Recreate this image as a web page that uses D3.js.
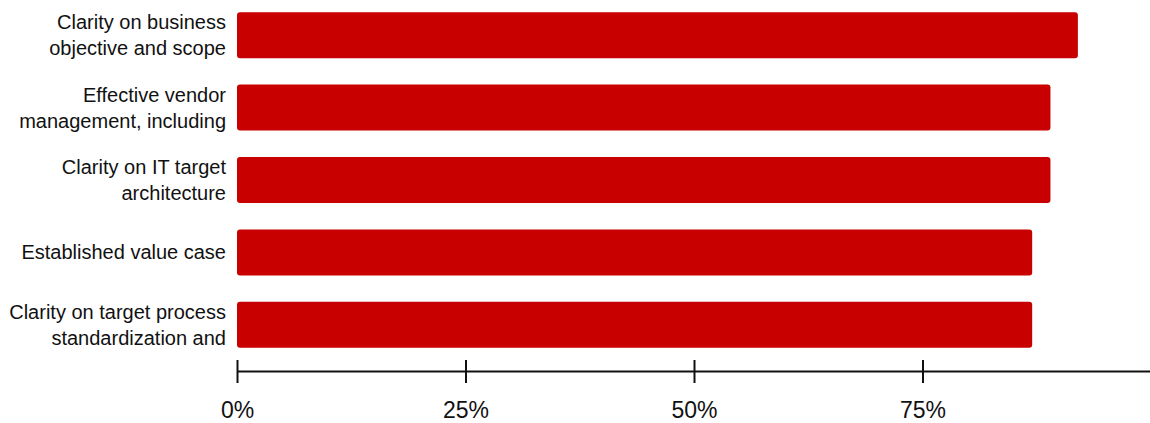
<!DOCTYPE html>
<html>
<head>
<meta charset="utf-8">
<script src="https://cdn.jsdelivr.net/npm/d3@7"></script>
<style>
  html, body { margin: 0; padding: 0; background: #ffffff; }
  svg { display: block; }
  text { font-family: "Liberation Sans", Arial, sans-serif; fill: #111; }
</style>
</head>
<body>
<svg id="chart" width="1150" height="423"></svg>
<script>
// Success factors and share of respondents citing them
const categories = [
  ["Clarity on business", "objective and scope"],
  ["Effective vendor", "management, including"],
  ["Clarity on IT target", "architecture"],
  ["Established value case"],
  ["Clarity on target process", "standardization and"]
];
const values = [0.92, 0.89, 0.89, 0.87, 0.87];
const tickValues = [0, 0.25, 0.5, 0.75];

const svg = d3.select("#chart");
const left = 237, right = 1151;

const x = d3.scaleLinear().domain([0, 1]).range([left, right]);
const y = d3.scaleBand()
  .domain(d3.range(categories.length))
  .range([-1, 361])
  .paddingInner(0.365)
  .paddingOuter(0.1825);

// bars
svg.append("g").selectAll("rect")
  .data(values)
  .join("rect")
  .attr("x", x(0))
  .attr("y", (d, i) => y(i))
  .attr("width", d => x(d) - x(0))
  .attr("height", y.bandwidth())
  .attr("rx", 3).attr("ry", 3)
  .attr("fill", "#c80000");

// category labels, wrapped onto up to two lines
const labels = svg.append("g").selectAll("text")
  .data(categories)
  .join("text")
  .attr("text-anchor", "end")
  .attr("font-size", 20)
  .attr("x", 226)
  .attr("y", (d, i) => y(i) + y.bandwidth() / 2);
labels.each(function(lines) {
  const t = d3.select(this);
  const lh = 26;
  const start = -(lines.length - 1) * lh / 2;
  lines.forEach((s, k) => {
    t.append("tspan")
      .attr("x", 226)
      .attr("dy", k === 0 ? start : lh)
      .attr("dominant-baseline", "central")
      .text(s);
  });
});

// x axis with ticks crossing the baseline
const axis = svg.append("g")
  .attr("transform", "translate(0,371)")
  .call(d3.axisBottom(x)
    .tickValues(tickValues)
    .tickFormat(d3.format(".0%"))
    .tickSizeInner(12)
    .tickSizeOuter(0)
    .tickPadding(19));
axis.select(".domain").attr("stroke", "#111").attr("stroke-width", 2);
axis.selectAll(".tick line")
  .attr("y1", -11).attr("y2", 12)
  .attr("stroke", "#111").attr("stroke-width", 2);
axis.selectAll(".tick text")
  .attr("font-size", 23)
  .attr("font-family", "Liberation Sans, Arial, sans-serif")
  .attr("fill", "#111");
</script>
</body>
</html>
